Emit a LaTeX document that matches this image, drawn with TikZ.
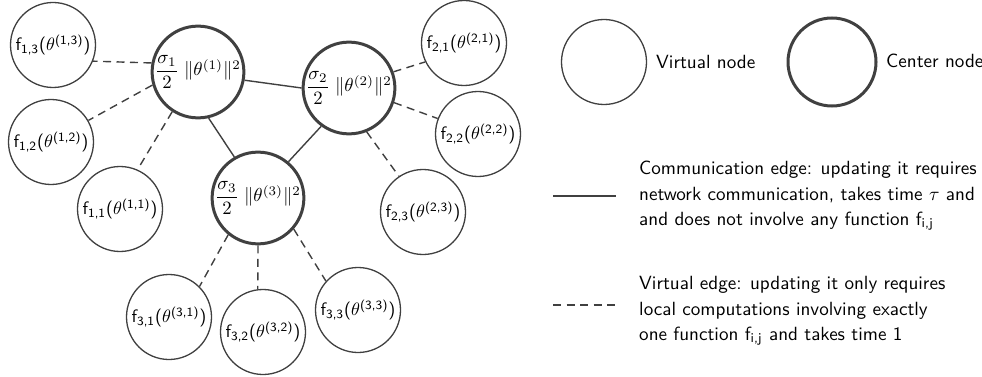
\documentclass[tikz,border=0pt]{standalone}
\usepackage{amsmath}
\usepackage{graphicx}
\newcommand{\txtscale}{1.91}
\newcommand{\fij}[2]{\scalebox{1.8}{\sffamily f\textsubscript{#1,#2}($\theta^{\textsf{(#1,#2)}}$)}}
\newcommand{\cen}[1]{\scalebox{1.88}{$\dfrac{\sigma_{#1}}{2}\;\|\theta^{(#1)}\|^2$}}
\newcommand{\legblock}[1]{\scalebox{\txtscale}{\sffamily\fontsize{10}{13.1}\selectfont\begin{tabular}{@{}l@{}}#1\end{tabular}}}
\begin{document}
\begin{tikzpicture}[x=1pt,y=-1pt,
  edgecol/.style={draw=black!75},
  vnode/.style={circle,edgecol,line width=1.3pt,minimum size=85pt,inner sep=0pt},
  cnode/.style={circle,edgecol,line width=3pt,minimum size=88pt,inner sep=0pt},
  comm/.style={edgecol,line width=1.4pt},
  virt/.style={edgecol,line width=1.4pt,dash pattern=on 8pt off 5.5pt},
  legtext/.style={anchor=west,inner sep=0pt}]
\useasboundingbox (0,0) rectangle (982,377);
% center nodes
\node[cnode] (c1) at (198,72) {\cen{1}};
\node[cnode] (c2) at (349,88) {\cen{2}};
\node[cnode] (c3) at (258,198) {\cen{3}};
% virtual nodes
\node[vnode] (f13) at (53,45) {\fij{1}{3}};
\node[vnode] (f12) at (51,142) {\fij{1}{2}};
\node[vnode] (f11) at (120,209) {\fij{1}{1}};
\node[vnode] (f21) at (464,43) {\fij{2}{1}};
\node[vnode] (f22) at (478,134) {\fij{2}{2}};
\node[vnode] (f23) at (423,212) {\fij{2}{3}};
\node[vnode] (f31) at (169,317) {\fij{3}{1}};
\node[vnode] (f32) at (263,332) {\fij{3}{2}};
\node[vnode] (f33) at (358,310) {\fij{3}{3}};
% communication edges
\draw[comm] (c1.-10) -- (c2.180);
\draw[comm] (c1.-77) -- (c3.120);
\draw[comm] (c2.-126) -- (c3.50);
% virtual edges
\draw[virt] (c1.169) -- (f13.-22);
\draw[virt] (c1.196) -- (f12.30);
\draw[virt] (c1.237) -- (f11.66);
\draw[virt] (c2.20) -- (f21.206);
\draw[virt] (c2.-18) -- (f22.159);
\draw[virt] (c2.-68) -- (f23.124);
\draw[virt] (c3.231) -- (f31.45);
\draw[virt] (c3.-90) -- (f32.97);
\draw[virt] (c3.-41) -- (f33.138);
% legend
\node[vnode] (lv) at (604,62) {};
\node[legtext] (lvt) at (656,63) {\legblock{Virtual node}};
\node[cnode] (lc) at (832,62) {};
\node[legtext] (lct) at (886,62) {\legblock{Center node}};
\coordinate (ls1) at (553,196);
\coordinate (ls2) at (616,196);
\draw[comm] (ls1) -- (ls2);
\node[legtext] (lst) at (639,195) {\legblock{Communication edge: updating it requires\\network communication, takes time $\tau$ and\\and does not involve any function f\textsubscript{i,j}}};
\coordinate (ld1) at (553,305);
\coordinate (ld2) at (616,305);
\draw[virt] (ld1) -- (ld2);
\node[legtext] (ldt) at (639,310) {\legblock{Virtual edge: updating it only requires\\local computations involving exactly\\one function f\textsubscript{i,j} and takes time 1}};
\end{tikzpicture}
\end{document}
